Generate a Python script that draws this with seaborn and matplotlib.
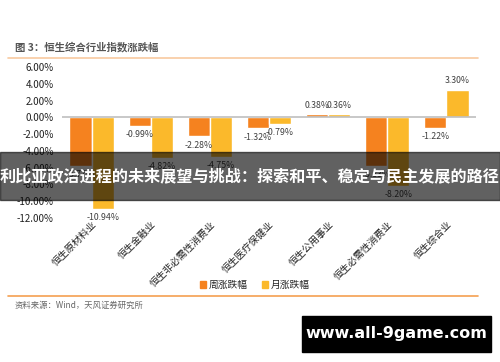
import numpy as np
import pandas as pd
import matplotlib
matplotlib.use("Agg")
import matplotlib.pyplot as plt
import matplotlib.patches as mpatches
import seaborn as sns

sns.set_style("white")
plt.rcParams['font.family'] = ['Noto Sans CJK SC', 'DejaVu Sans']
plt.rcParams['axes.unicode_minus'] = False

categories = ["恒生原材料业", "恒生金融业", "恒生非必需性消费业", "恒生医疗保健业",
              "恒生公用事业", "恒生必需性消费业", "恒生综合业"]
weekly  = [-5.77, -0.99, -2.28, -1.32, 0.38, -5.83, -1.22]
monthly = [-10.94, -4.82, -4.75, -0.79, 0.36, -8.2, 3.30]
series_names = ["周涨跌幅", "月涨跌幅"]
yticks = [6, 4, 2, 0, -2, -4, -6, -8, -10, -12]

ORANGE = "#F5821F"
YELLOW = "#FBB92B"

df = pd.DataFrame({
    "行业": categories * 2,
    "值": weekly + monthly,
    "类型": [series_names[0]] * len(categories) + [series_names[1]] * len(categories),
})

fig = plt.figure(figsize=(5, 3.62), dpi=100)
ax = fig.add_axes([0.124, 0.398, 0.828, 0.417])

sns.barplot(data=df, x="行业", y="值", hue="类型", palette=[ORANGE, YELLOW],
            width=0.75, saturation=1, legend=False, ax=ax)

for cont in ax.containers:
    ax.bar_label(cont, fmt="%.2f%%", padding=3, fontsize=6.3, color="#404040")

ax.set_ylim(-12, 6)
ax.set_yticks(yticks)
ax.set_yticklabels([f"{v:.2f}%" for v in yticks], fontsize=7, color="#222222")
ax.tick_params(axis="y", length=0, pad=6)
ax.tick_params(axis="x", length=0, pad=1)
ax.set_xticks(range(len(categories)))
ax.set_xticklabels(categories, rotation=45, ha="right", rotation_mode="anchor",
                   fontsize=7, color="#222222")
ax.set_xlabel("")
ax.set_ylabel("")
for s in ax.spines.values():
    s.set_visible(False)
ax.axhline(0, color="#BFBFBF", lw=1.2, zorder=3)
ax.set_xlim(-0.5, len(categories) - 0.5)

# legend under the chart
handles = [mpatches.Patch(color=ORANGE, label=series_names[0]),
           mpatches.Patch(color=YELLOW, label=series_names[1])]
fig.legend(handles=handles, loc="center", bbox_to_anchor=(0.51, 0.213), ncol=2,
           frameon=False, fontsize=7, handlelength=0.6, handleheight=0.6,
           handletextpad=0.3, columnspacing=1.5)

# title, rules and source
fig.text(0.03, 0.87, "图 3：恒生综合行业指数涨跌幅", fontsize=7.5, color="#555555",
         fontweight="bold", va="center")
fig.add_artist(plt.Line2D([0.016, 0.956], [0.84, 0.84], color="#F8C9A0", lw=1.2))
fig.add_artist(plt.Line2D([0.016, 0.956], [0.182, 0.182], color="#F5A050", lw=1.2))
fig.text(0.03, 0.157, "资料来源：Wind，天风证券研究所", fontsize=6, color="#666666",
         va="center")

# overlay banner
fig.add_artist(mpatches.Rectangle((0, 0.448), 1, 0.133, transform=fig.transFigure,
                                  color="black", alpha=0.62, zorder=10))
fig.text(0.5, 0.514, "利比亚政治进程的未来展望与挑战：探索和平、稳定与民主发展的路径",
         fontsize=11.6, color="white", fontweight="bold", ha="center", va="center",
         zorder=11)

# watermark
fig.add_artist(mpatches.Rectangle((0.604, 0.028), 0.378, 0.1, transform=fig.transFigure,
                                  color="black", zorder=10))
fig.text(0.793, 0.078, "www.all-9game.com", fontsize=11.5, color="white",
         fontweight="bold", ha="center", va="center", zorder=11,
         family=["DejaVu Sans"])

fig.savefig("out.png", dpi=100)
